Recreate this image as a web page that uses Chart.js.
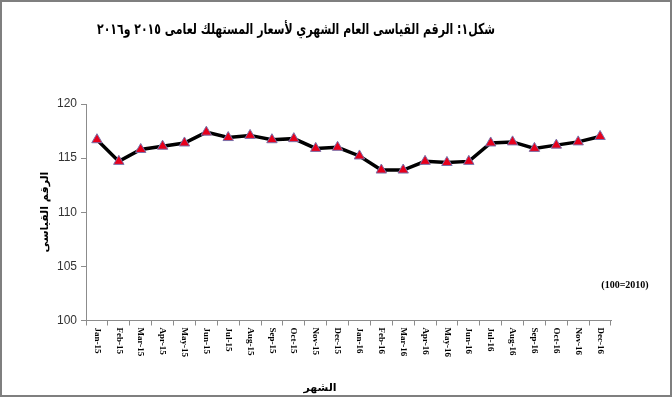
<!DOCTYPE html>
<html>
<head>
<meta charset="utf-8">
<script src="https://cdn.jsdelivr.net/npm/chart.js@4.4.1/dist/chart.umd.min.js"></script>
<style>
    html, body { margin: 0; padding: 0; background: #fff; }
    #wrap { width: 672px; height: 397px; position: relative; }
</style>
</head>
<body>
<div id="wrap"><canvas id="cpiChart"></canvas></div>
<script>
'use strict';

// Monthly labels
const months = ['Jan-15', 'Feb-15', 'Mar-15', 'Apr-15', 'May-15', 'Jun-15', 'Jul-15', 'Aug-15', 'Sep-15', 'Oct-15', 'Nov-15', 'Dec-15',
    'Jan-16', 'Feb-16', 'Mar-16', 'Apr-16', 'May-16', 'Jun-16', 'Jul-16', 'Aug-16', 'Sep-16', 'Oct-16', 'Nov-16', 'Dec-16'];

// CPI values (2010 = 100)
const cpiValues = [116.7, 114.7, 115.8, 116.1, 116.4, 117.4, 116.9, 117.1, 116.7, 116.8, 115.9, 116.0,
    115.2, 113.9, 113.9, 114.7, 114.6, 114.7, 116.4, 116.5, 115.9, 116.2, 116.5, 117.0];

// Y axis ticks
const yTicks = [100, 105, 110, 115, 120];

const chartTitle = 'شكل١: الرقم القياسى العام الشهري لأسعار المستهلك لعامى ٢٠١٥ و٢٠١٦';
const yTitle = 'الرقم القياسى';
const xTitle = 'الشهر';
const baseNote = '(100=2010)';

// Draws frame, titles and the rotated month labels
const decorations = {
    id: 'decorations',
    beforeDraw(chart) {
        const ctx = chart.ctx;
        ctx.save();
        ctx.fillStyle = '#fff';
        ctx.fillRect(0, 0, chart.width, chart.height);
        ctx.restore();
    },
    afterDraw(chart) {
        const ctx = chart.ctx;
        const area = chart.chartArea;
        const xScale = chart.scales.x;
        ctx.save();

        // outer frame
        ctx.strokeStyle = '#7f7f7f';
        ctx.lineWidth = 2;
        ctx.strokeRect(1, 1, chart.width - 2, chart.height - 2);

        // main title
        ctx.fillStyle = '#000';
        ctx.font = 'bold 15px "DejaVu Sans", serif';
        ctx.textAlign = 'center';
        ctx.textBaseline = 'middle';
        ctx.direction = 'rtl';
        ctx.fillText(chartTitle, 296, 30, 398);

        // x title
        ctx.font = 'bold 11px "DejaVu Sans", serif';
        ctx.fillText(xTitle, 320, 388);

        // y title
        ctx.save();
        ctx.translate(45, 212);
        ctx.rotate(-Math.PI / 2);
        ctx.font = 'bold 11px "DejaVu Sans", serif';
        ctx.fillText(yTitle, 0, 0);
        ctx.restore();

        // base year note
        ctx.direction = 'ltr';
        ctx.font = 'bold 10px "Liberation Serif", serif';
        ctx.fillText(baseNote, 625, 285);

        // month labels, reading top to bottom
        ctx.font = 'bold 9px "Liberation Serif", serif';
        ctx.textAlign = 'left';
        months.forEach((m, i) => {
            const x = xScale.getPixelForValue(i);
            ctx.save();
            ctx.translate(x, area.bottom + 7);
            ctx.rotate(Math.PI / 2);
            ctx.fillText(m, 0, 0);
            ctx.restore();
        });

        ctx.restore();
    }
};

const chart = new Chart(document.getElementById('cpiChart').getContext('2d'), {
    type: 'line',
    data: {
        labels: months,
        datasets: [{
            label: 'CPI',
            data: cpiValues,
            borderColor: '#000',
            borderWidth: 3.5,
            tension: 0,
            fill: false,
            pointStyle: 'triangle',
            pointRadius: 6,
            pointBackgroundColor: '#e8001c',
            pointBorderColor: '#7a6fa8',
            pointBorderWidth: 1
        }]
    },
    options: {
        responsive: true,
        maintainAspectRatio: false,
        animation: false,
        layout: {
            padding: { top: 104, left: 53, right: 61, bottom: 38 }
        },
        scales: {
            x: {
                offset: true,
                grid: {
                    offset: true,
                    drawOnChartArea: false,
                    drawTicks: true,
                    tickLength: 5,
                    color: '#8c8c8c'
                },
                border: { color: '#8c8c8c', width: 1 },
                ticks: {
                    autoSkip: false,
                    minRotation: 90,
                    maxRotation: 90,
                    color: 'rgba(0,0,0,0)',
                    font: { family: '"Liberation Serif", serif', size: 9, weight: 'bold' },
                    padding: 2
                }
            },
            y: {
                min: 100,
                max: 120,
                afterBuildTicks(scale) {
                    scale.ticks = yTicks.map(v => ({ value: v }));
                },
                grid: {
                    drawOnChartArea: false,
                    drawTicks: true,
                    tickLength: 5,
                    color: '#8c8c8c'
                },
                border: { color: '#8c8c8c', width: 1 },
                ticks: {
                    color: '#333',
                    font: { family: '"Liberation Sans", Arial, sans-serif', size: 12 },
                    padding: 4
                }
            }
        },
        plugins: {
            legend: { display: false },
            tooltip: { enabled: false }
        }
    },
    plugins: [decorations]
});
</script>
</body>
</html>
